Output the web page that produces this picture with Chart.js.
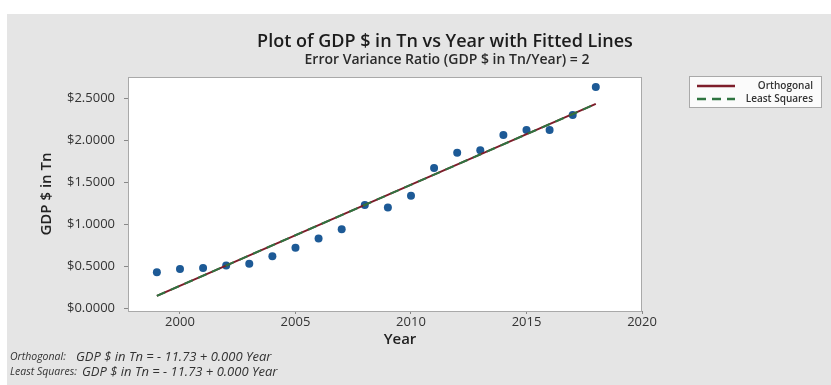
<!DOCTYPE html>
<html>
<head>
<meta charset="utf-8">
<script src="https://cdn.jsdelivr.net/npm/chart.js@4"></script>
<style>
  html, body { margin: 0; padding: 0; background: #fff; }
  canvas { display: block; }
</style>
</head>
<body>
<canvas id="gdpChart" width="831" height="385"></canvas>
<script>
// GDP ($ Tn) by year
const years = [1999, 2000, 2001, 2002, 2003, 2004, 2005, 2006, 2007, 2008,
               2009, 2010, 2011, 2012, 2013, 2014, 2015, 2016, 2017, 2018];
const gdp = [0.43, 0.47, 0.48, 0.51, 0.53, 0.62, 0.72, 0.83, 0.94, 1.23,
             1.20, 1.34, 1.67, 1.85, 1.88, 2.06, 2.12, 2.12, 2.30, 2.63];

// fitted lines, end points at first and last year
const fitYears = [1999, 2018];
const orthogonalFit = [0.15, 2.43];
const leastSquaresFit = [0.15, 2.43];

const xTicks = [2000, 2005, 2010, 2015, 2020];
const yTicks = [0, 0.5, 1, 1.5, 2, 2.5];

const titleText = "Plot of GDP $ in Tn vs Year with Fitted Lines";
const subtitleText = "Error Variance Ratio (GDP $ in Tn/Year) = 2";
const xTitle = "Year";
const footLines = [
    ["Orthogonal:", "GDP $ in Tn = - 11.73 + 0.000 Year"],
    ["Least Squares:", "GDP $ in Tn = - 11.73 + 0.000 Year"]
];

const FONT = "'Open Sans', 'Noto Sans', sans-serif";
Chart.defaults.font.family = FONT;

const pairs = (xs, ys) => xs.map((x, i) => ({ x, y: ys[i] }));

// background, plot frame, titles, legend box and equations
const decor = {
    id: "decor",
    beforeDraw(chart) {
        const { ctx, chartArea: a } = chart;
        ctx.save();
        ctx.fillStyle = "#e5e5e5";
        ctx.fillRect(7, 14, chart.width - 7, chart.height - 14);
        ctx.fillStyle = "#fff";
        ctx.fillRect(a.left, a.top, a.right - a.left, a.bottom - a.top);
        ctx.restore();
    },
    beforeDatasetsDraw(chart) {
        const { ctx, chartArea: a } = chart;
        ctx.save();
        ctx.strokeStyle = "#a9a9a9";
        ctx.lineWidth = 1;
        ctx.strokeRect(a.left + 0.5, a.top + 0.5, a.right - a.left - 1, a.bottom - a.top);
        ctx.restore();
    },
    afterDraw(chart) {
        const { ctx } = chart;
        ctx.save();
        ctx.textAlign = "center";
        ctx.textBaseline = "middle";
        ctx.fillStyle = "#1c1c1c";
        ctx.font = "600 18px " + FONT;
        ctx.fillText(titleText, 445, 42);
        ctx.font = "600 14px " + FONT;
        ctx.fillStyle = "#2a2a2a";
        ctx.fillText(subtitleText, 447, 60);

        // x axis title
        ctx.font = "600 15px " + FONT;
        ctx.fillStyle = "#222";
        ctx.fillText(xTitle, 400, 340);

        // legend
        ctx.fillStyle = "#fbfbfb";
        ctx.fillRect(689, 76, 133, 32);
        ctx.strokeStyle = "#a9a9a9";
        ctx.lineWidth = 1;
        ctx.strokeRect(689.5, 76.5, 132, 31);
        const fits = chart.data.datasets.filter(d => d.type === "line");
        fits.forEach((d, i) => {
            const y = 86 + i * 13;
            ctx.strokeStyle = d.borderColor;
            ctx.lineWidth = 2.5;
            ctx.setLineDash(d.borderDash || []);
            ctx.beginPath();
            ctx.moveTo(697, y);
            ctx.lineTo(735, y);
            ctx.stroke();
            ctx.setLineDash([]);
            ctx.fillStyle = "#333";
            ctx.font = "600 10px " + FONT;
            ctx.textAlign = "right";
            ctx.fillText(d.label, 813, y);
        });

        // fitted equations under the plot
        ctx.textAlign = "left";
        ctx.fillStyle = "#333";
        footLines.forEach((f, i) => {
            const y = 357 + i * 15;
            ctx.font = "italic 10.5px " + FONT;
            ctx.fillText(f[0], 10, y);
            ctx.font = "italic 13px " + FONT;
            ctx.fillText(f[1], i === 0 ? 76 : 82, y);
        });
        ctx.restore();
    }
};

new Chart(document.getElementById("gdpChart"), {
    type: "scatter",
    data: {
        datasets: [
            {
                label: "GDP $ in Tn",
                data: pairs(years, gdp),
                backgroundColor: "#1d5a96",
                borderWidth: 0,
                pointRadius: 4,
                order: 3
            },
            {
                type: "line",
                label: "Orthogonal",
                data: pairs(fitYears, orthogonalFit),
                borderColor: "#7d1d2a",
                borderWidth: 2,
                pointRadius: 0,
                fill: false,
                order: 2
            },
            {
                type: "line",
                label: "Least Squares",
                data: pairs(fitYears, leastSquaresFit),
                borderColor: "#2f7440",
                borderWidth: 2,
                borderDash: [9, 6],
                pointRadius: 0,
                fill: false,
                order: 1
            }
        ]
    },
    options: {
        responsive: false,
        animation: false,
        devicePixelRatio: 1,
        layout: { padding: { left: 8, right: 189, top: 77, bottom: 0 } },
        plugins: {
            legend: { display: false },
            tooltip: { enabled: false }
        },
        scales: {
            x: {
                type: "linear",
                min: 1997.75,
                max: 2020,
                afterBuildTicks: s => { s.ticks = xTicks.map(v => ({ value: v })); },
                afterFit: s => { s.height = 74; },
                ticks: {
                    color: "#333",
                    font: { size: 13 },
                    padding: 0,
                    callback: v => String(v)
                },
                grid: { drawOnChartArea: false, tickLength: 3, color: "#888" },
                border: { display: false }
            },
            y: {
                min: -0.03,
                max: 2.75,
                afterBuildTicks: s => { s.ticks = yTicks.map(v => ({ value: v })); },
                afterFit: s => { s.width = 120; },
                ticks: {
                    color: "#333",
                    font: { size: 13 },
                    padding: 9,
                    callback: v => "$" + v.toFixed(4)
                },
                grid: { drawOnChartArea: false, tickLength: 4, color: "#888" },
                border: { display: false },
                title: {
                    display: true,
                    text: "GDP $ in Tn",
                    color: "#222",
                    font: { size: 15, weight: "600" },
                    padding: { top: 30, bottom: 0 }
                }
            }
        }
    },
    plugins: [decor]
});
</script>
</body>
</html>
